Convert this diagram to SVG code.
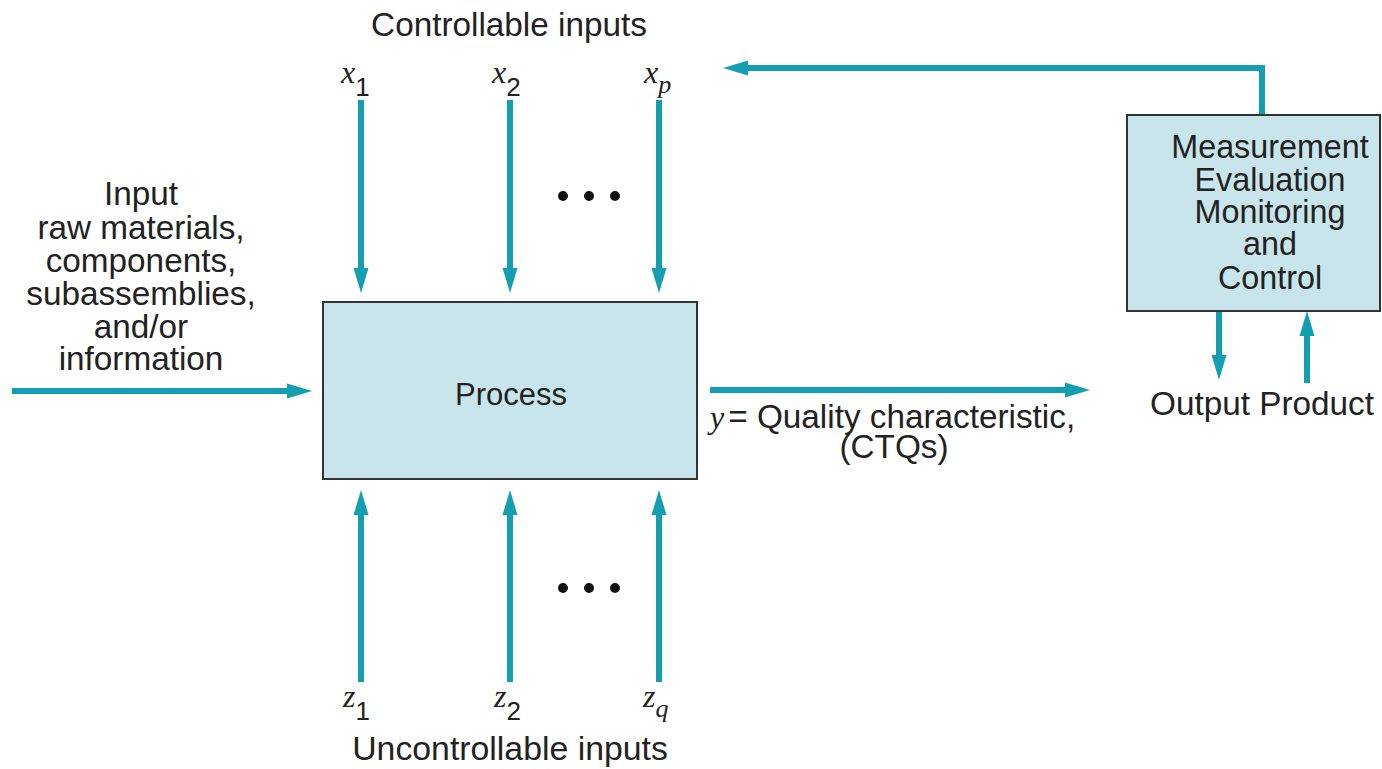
<svg xmlns="http://www.w3.org/2000/svg" width="1382" height="769" viewBox="0 0 1382 769">
<defs>
<style>
.t{font-family:"Liberation Sans",Arial,sans-serif;font-size:33.3px;fill:#222;}
.v{font-family:"Liberation Serif","Times New Roman",serif;font-style:italic;font-size:32px;fill:#222;}
.s{font-family:"Liberation Sans",Arial,sans-serif;font-size:26px;fill:#222;}
.box{fill:#c7e5eb;stroke:#333;stroke-width:2;}
.c{fill:none;stroke:#139fb1;stroke-width:6;marker-end:url(#ah);}
.dot{fill:#111;}
</style>
<marker id="ah" markerUnits="userSpaceOnUse" markerWidth="25" markerHeight="16" refX="1" refY="8" orient="auto">
<path d="M0,0.5 L25,8 L0,15.5 Z" fill="#139fb1"/>
</marker>
</defs>
<rect width="1382" height="769" fill="#fff"/>
<g id="connectors">
<line class="c" x1="361" y1="100" x2="361" y2="269"/>
<line class="c" x1="510" y1="100" x2="510" y2="269"/>
<line class="c" x1="659" y1="100" x2="659" y2="269"/>
<line class="c" x1="361" y1="682" x2="361" y2="514"/>
<line class="c" x1="510" y1="682" x2="510" y2="514"/>
<line class="c" x1="659" y1="682" x2="659" y2="514"/>
<line class="c" x1="12" y1="391" x2="288" y2="391"/>
<line class="c" x1="710" y1="390" x2="1066" y2="390"/>
<path class="c" d="M1262,115 V68 H747"/>
<line class="c" x1="1219" y1="311" x2="1219" y2="356"/>
<line class="c" x1="1307" y1="383" x2="1307" y2="335"/>
</g>
<g id="process">
<rect class="box" x="323" y="302" width="374" height="177"/>
<text class="t" x="511" y="405" text-anchor="middle" style="font-size:31px">Process</text>
</g>
<g id="measurement">
<rect class="box" x="1127" y="115" width="253" height="196"/>
<g class="t" text-anchor="middle" style="font-size:32.3px">
<text x="1270" y="158">Measurement</text>
<text x="1270" y="191">Evaluation</text>
<text x="1270" y="223">Monitoring</text>
<text x="1270" y="255">and</text>
<text x="1270" y="289">Control</text>
</g>
</g>
<g id="controllable">
<text class="t" x="509" y="36" text-anchor="middle">Controllable inputs</text>
<text x="341" y="83"><tspan class="v">x</tspan><tspan class="s" dy="13">1</tspan></text>
<text x="492" y="83"><tspan class="v">x</tspan><tspan class="s" dy="13">2</tspan></text>
<text x="644" y="83"><tspan class="v">x</tspan><tspan class="v" style="font-size:26px" dy="10">p</tspan></text>
<circle class="dot" cx="563" cy="196" r="5"/>
<circle class="dot" cx="589" cy="196" r="5"/>
<circle class="dot" cx="615" cy="196" r="5"/>
</g>
<g id="uncontrollable">
<text x="343" y="707"><tspan class="v">z</tspan><tspan class="s" dy="13">1</tspan></text>
<text x="494" y="707"><tspan class="v">z</tspan><tspan class="s" dy="13">2</tspan></text>
<text x="643" y="707"><tspan class="v">z</tspan><tspan class="v" style="font-size:26px" dy="10">q</tspan></text>
<text class="t" x="510" y="760" text-anchor="middle" style="font-size:33.8px">Uncontrollable inputs</text>
<circle class="dot" cx="563" cy="588" r="5"/>
<circle class="dot" cx="589" cy="588" r="5"/>
<circle class="dot" cx="615" cy="588" r="5"/>
</g>
<g id="input">
<g class="t" text-anchor="middle">
<text x="141" y="205">Input</text>
<text x="141" y="239">raw materials,</text>
<text x="141" y="272">components,</text>
<text x="141" y="305">subassemblies,</text>
<text x="141" y="338">and/or</text>
<text x="141" y="370">information</text>
</g>
</g>
<g id="output">
<text x="710" y="428"><tspan class="v">y</tspan><tspan class="t" dx="4">= Quality characteristic,</tspan></text>
<text class="t" x="894" y="458" text-anchor="middle">(CTQs)</text>
</g>
<g id="output-product">
<text class="t" x="1262" y="415" text-anchor="middle">Output Product</text>
</g>
</svg>
